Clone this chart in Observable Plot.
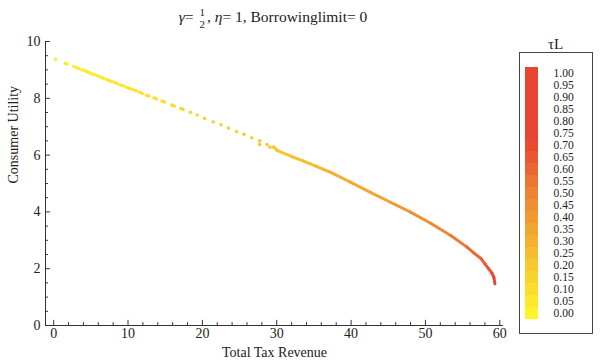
<!DOCTYPE html>
<html><head><meta charset="utf-8">
<script src="https://cdn.jsdelivr.net/npm/d3@7"></script>
<script src="https://cdn.jsdelivr.net/npm/@observablehq/plot@0.6"></script>
<style>
body{margin:0;background:#fff;}
#wrap{position:relative;width:600px;height:362px;font-family:"Liberation Serif","DejaVu Serif",serif;color:#222;overflow:hidden;}
#wrap svg{position:absolute;}
#title{position:absolute;top:3px;left:0;width:546px;text-align:center;font-size:15.5px;line-height:28px;white-space:nowrap;}
#title i{font-style:italic;}
.frac{display:inline-flex;flex-direction:column;vertical-align:middle;font-size:11px;line-height:12px;text-align:center;margin:0 2px 0 2px;}
</style></head><body>
<div id="wrap"><div id="title"><i>γ</i>= <span class="frac"><span>1</span><span>2</span></span>, <i>η</i>= 1, Borrowinglimit= 0</div></div>
<script>
// sparse dots
const dotX = [0.23,1.57,1.8,2.7,3.06,3.37,3.82,4.18,4.49,4.85,5.17,5.53,5.93,6.29,6.65,7.05,7.41,7.77,8.17,8.53,8.98,9.34,9.78,10.1,10.3,10.7,11.1,11.6,11.9,12.5,12.8,13.5,13.8,14.6,14.9,15.9,16.2,17.1,17.4,18.4,19.3,20.3,21.45,22.5,23.5,24.6,25.6,26.65,27.7,27.7,28.7,29.1,29.6,30.1];
const dotY = [9.37,9.23,9.21,9.12,9.08,9.05,9.00,8.97,8.93,8.90,8.86,8.83,8.79,8.75,8.71,8.67,8.63,8.60,8.56,8.52,8.47,8.44,8.39,8.36,8.34,8.30,8.26,8.21,8.17,8.11,8.08,8.01,7.98,7.90,7.87,7.76,7.73,7.64,7.61,7.51,7.41,7.29,7.17,7.07,6.95,6.83,6.73,6.61,6.50,6.37,6.37,6.28,6.28,6.16];
const dotTau = [0.01,0.02,0.02,0.025,0.03,0.03,0.035,0.04,0.04,0.04,0.045,0.045,0.05,0.05,0.055,0.055,0.06,0.06,0.065,0.065,0.07,0.07,0.075,0.075,0.08,0.08,0.085,0.085,0.09,0.09,0.095,0.1,0.1,0.105,0.11,0.115,0.12,0.125,0.13,0.135,0.14,0.145,0.15,0.155,0.16,0.165,0.17,0.175,0.18,0.185,0.19,0.195,0.2,0.205];
// dense part of the curve
const lineX = [29.6,30.1,31.9,33.6,35.2,36.6,37.2,39.9,42.6,45.3,48.0,50.7,53.4,55.6,56.5,57.5,58.0,58.5,58.95,59.2,59.35];
const lineY = [6.28,6.16,5.96,5.79,5.62,5.46,5.40,5.05,4.69,4.34,3.99,3.60,3.17,2.76,2.56,2.35,2.17,2.0,1.84,1.70,1.47];
const lineTau = [0.2,0.21,0.23,0.25,0.27,0.29,0.3,0.33,0.36,0.4,0.44,0.48,0.53,0.58,0.6,0.63,0.65,0.67,0.7,0.73,0.78];
// ticks
const xMajor = [0,10,20,30,40,50,60];
const xMinor = [2,4,6,8,12,14,16,18,22,24,26,28,32,34,36,38,42,44,46,48,52,54,56,58];
const yMajor = [0,2,4,6,8,10];
const yMinor = [0.5,1,1.5,2.5,3,3.5,4.5,5,5.5,6.5,7,7.5,8.5,9,9.5];
const legendValues = [0,0.05,0.1,0.15,0.2,0.25,0.3,0.35,0.4,0.45,0.5,0.55,0.6,0.65,0.7,0.75,0.8,0.85,0.9,0.95,1.0];
const legendLabels = ["0.00","0.05","0.10","0.15","0.20","0.25","0.30","0.35","0.40","0.45","0.50","0.55","0.60","0.65","0.70","0.75","0.80","0.85","0.90","0.95","1.00"];
const colorStops = [0,0.25,0.5,0.72,1];
const colorRange = ["#fff42a","#f6bd30","#ed8334","#e84432","#e84432"];

const dots = dotX.map((x,i)=>({x, y: dotY[i], tau: dotTau[i]}));
const curve = lineX.map((x,i)=>({x, y: lineY[i], tau: lineTau[i]}));
const colorOpt = {type:"linear", domain: colorStops, range: colorRange, interpolate:"rgb"};
const font = '"Liberation Serif","DejaVu Serif",serif';
const axisColor = "#333";

const chart = Plot.plot({
  width:600, height:362,
  marginLeft:45, marginRight:97, marginTop:41, marginBottom:37,
  x:{domain:[-1.1,60.5], label:null},
  y:{domain:[0,10], label:null},
  color: colorOpt,
  style:{fontFamily:font, fontSize:"14px", color:"#222", background:"transparent"},
  marks:[
    Plot.ruleY([0],{stroke:axisColor}),
    Plot.ruleX([-1.1],{stroke:axisColor}),
    Plot.ruleX(xMajor,{x:d=>d, y1:0, y2:0.18, stroke:axisColor}),
    Plot.ruleX(xMinor,{x:d=>d, y1:0, y2:0.1, stroke:axisColor}),
    Plot.ruleY(yMajor,{y:d=>d, x1:-1.1, x2:-0.43, stroke:axisColor}),
    Plot.ruleY(yMinor,{y:d=>d, x1:-1.1, x2:-0.7, stroke:axisColor}),
    Plot.axisX(xMajor,{tickSize:0, tickPadding:3, label:null, fontSize:14}),
    Plot.axisY(yMajor,{tickSize:0, tickPadding:5, label:null, fontSize:14}),
    Plot.text(["Total Tax Revenue"],{frameAnchor:"bottom", dy:31, fontSize:14}),
    Plot.text(["Consumer Utility"],{frameAnchor:"left", dx:-32, rotate:-90, fontSize:14}),
    Plot.line(curve,{x:"x", y:"y", stroke:"tau", z:null, strokeWidth:3, strokeLinecap:"round"}),
    Plot.dot(dots,{x:"x", y:"y", fill:"tau", r:1.8})
  ]
});
chart.style.left="0px"; chart.style.top="0px";
document.getElementById("wrap").appendChild(chart);

const legend = Plot.plot({
  width:100, height:310,
  margin:0,
  x:{domain:[0,100], axis:null},
  y:{type:"band", domain: legendValues.slice().reverse(), range:[28,298], padding:0, axis:null},
  color: colorOpt,
  style:{fontFamily:font, fontSize:"11.5px", color:"#222", background:"transparent"},
  marks:[
    Plot.frame({stroke:"#444", insetLeft:19, insetRight:8, insetTop:22, insetBottom:7}),
    Plot.barX(legendValues,{x1:25, x2:38, y:d=>d, fill:d=>d}),
    Plot.text(legendValues,{x:53, y:d=>d, text:(d,i)=>legendLabels[i], textAnchor:"start", fontSize:11.5}),
    Plot.text(["τL"],{x:55, frameAnchor:"top", lineAnchor:"middle", dy:14, fontSize:15})
  ]
});
legend.style.left="500px"; legend.style.top="30px";
document.getElementById("wrap").appendChild(legend);
</script>
</body></html>
